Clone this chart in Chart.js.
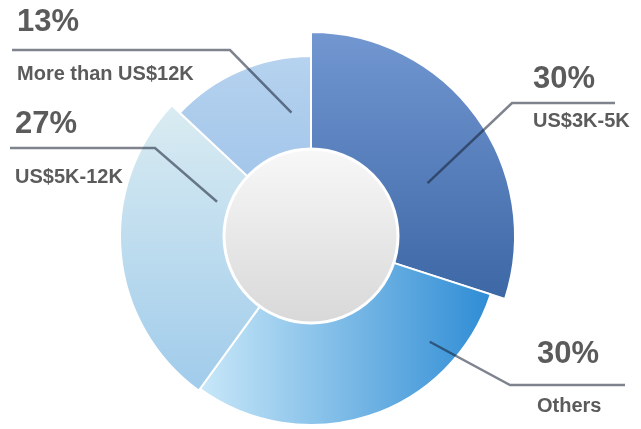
<!DOCTYPE html>
<html>
<head>
<meta charset="utf-8">
<script src="https://cdn.jsdelivr.net/npm/chart.js@4"></script>
<style>
  html, body { margin: 0; padding: 0; background: #fff; }
  canvas { display: block; }
</style>
</head>
<body>
<canvas id="incomeChart" width="641" height="429"></canvas>
<script>
const categories = ['US$3K-5K', 'Others', 'US$5K-12K', 'More than US$12K'];
const shares = [30, 30, 27, 13];

// styling: slices are drawn with uneven outer radius (px)
const sliceRadius = [204, 189, 191, 180];
const sliceFill = [
  { dir: 'v', from: -204, to: 64,  stops: ['#7297d1', '#3c67a5'] },
  { dir: 'h', from: -116, to: 194, stops: ['#cbe9f9', '#2788d3'] },
  { dir: 'v', from: -141, to: 159, stops: ['#dcedf2', '#9fcbeb'] },
  { dir: 'v', from: -186, to: -6,  stops: ['#b7d3ef', '#9bc1e8'] }
];
// leader lines: anchor in polar (deg clockwise from top, radius), elbow and end in px
const labelLayout = [
  { anchor: [65.6, 128], elbow: [512, 103], endX: 615, textX: 533, pctY: 88,  nameY: 127 },
  { anchor: [131.7, 159], elbow: [510, 385], endX: 625, textX: 537, pctY: 363, nameY: 412 },
  { anchor: [290, 100],  elbow: [155, 148], endX: 10,  textX: 15,  pctY: 133, nameY: 183 },
  { anchor: [351, 125],  elbow: [230, 50],  endX: 12,  textX: 17,  pctY: 31,  nameY: 80 }
];

function sliceGradient(ctx) {
  const chart = ctx.chart;
  const area = chart.chartArea;
  const f = sliceFill[ctx.dataIndex];
  if (!area || !f) return f ? f.stops[0] : '#999';
  const cx = (area.left + area.right) / 2;
  const cy = (area.top + area.bottom) / 2;
  const g = f.dir === 'v'
    ? chart.ctx.createLinearGradient(0, cy + f.from, 0, cy + f.to)
    : chart.ctx.createLinearGradient(cx + f.from, 0, cx + f.to, 0);
  g.addColorStop(0, f.stops[0]);
  g.addColorStop(1, f.stops[1]);
  return g;
}

const unevenRing = {
  id: 'unevenRing',
  afterDatasetUpdate(chart, args) {
    args.meta.data.forEach((arc, i) => { arc.outerRadius = sliceRadius[i]; });
  },
  afterDatasetsDraw(chart) {
    const arc0 = chart.getDatasetMeta(0).data[0];
    const c = chart.ctx;
    const cx = arc0.x, cy = arc0.y;
    // centre disc
    c.save();
    const g = c.createLinearGradient(0, cy - 88, 0, cy + 88);
    g.addColorStop(0, '#f8f8f8');
    g.addColorStop(1, '#d8d8d8');
    c.beginPath();
    c.arc(cx, cy, 87, 0, Math.PI * 2);
    c.fillStyle = g;
    c.fill();
    c.lineWidth = 3;
    c.strokeStyle = '#ffffff';
    c.stroke();

    // leader lines and labels
    const total = shares.reduce((a, b) => a + b, 0);
    labelLayout.forEach((l, i) => {
      const a = (l.anchor[0] - 90) * Math.PI / 180;
      const ax = cx + Math.cos(a) * l.anchor[1];
      const ay = cy + Math.sin(a) * l.anchor[1];
      c.beginPath();
      c.moveTo(ax, ay);
      c.lineTo(l.elbow[0], l.elbow[1]);
      c.lineTo(l.endX, l.elbow[1]);
      c.lineWidth = 2.5;
      c.strokeStyle = 'rgba(20,30,50,0.55)';
      c.stroke();

      c.fillStyle = '#5b5b5b';
      c.textAlign = 'left';
      c.textBaseline = 'alphabetic';
      c.font = 'bold 31px "Liberation Sans", Arial, sans-serif';
      c.fillText(Math.round(shares[i] / total * 100) + '%', l.textX, l.pctY);
      c.font = 'bold 20px "Liberation Sans", Arial, sans-serif';
      c.fillText(categories[i], l.textX, l.nameY);
    });
    c.restore();
  }
};

new Chart(document.getElementById('incomeChart'), {
  type: 'doughnut',
  data: {
    labels: categories,
    datasets: [{
      data: shares,
      backgroundColor: sliceGradient,
      borderColor: '#ffffff',
      borderWidth: 2,
      clip: false
    }]
  },
  options: {
    responsive: false,
    animation: false,
    events: [],
    radius: 204,
    cutout: '41%',
    layout: { padding: { left: 100, right: 119, top: 43, bottom: 0 } },
    plugins: {
      legend: { display: false },
      tooltip: { enabled: false }
    }
  },
  plugins: [unevenRing]
});
</script>
</body>
</html>
